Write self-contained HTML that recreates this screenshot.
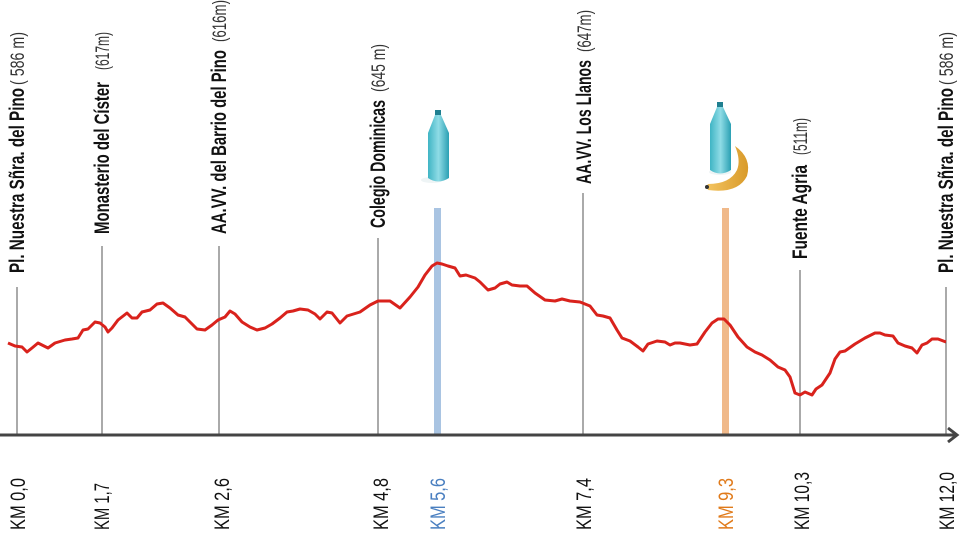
<!DOCTYPE html>
<html><head><meta charset="utf-8"><style>
html,body{margin:0;padding:0;background:#fff;}
svg{display:block;font-family:"Liberation Sans Narrow","Liberation Sans",sans-serif;}
.b{font-weight:bold;font-size:21px;fill:#111;}
.l{font-size:19px;fill:#333;}
.k{font-size:21px;fill:#111;}
</style></head><body>
<svg width="960" height="534" viewBox="0 0 960 534" xmlns="http://www.w3.org/2000/svg">
<defs>
<linearGradient id="bt" x1="0" x2="1"><stop offset="0" stop-color="#3fb4c4"/><stop offset="0.5" stop-color="#8fdce6"/><stop offset="1" stop-color="#2aa0b3"/></linearGradient>
<linearGradient id="bn" x1="0" x2="1"><stop offset="0" stop-color="#f3c460"/><stop offset="1" stop-color="#d99a2a"/></linearGradient>
</defs>
<g stroke="#555" stroke-width="1">
<line x1="17" y1="287" x2="17" y2="435"/>
<line x1="102" y1="246" x2="102" y2="435"/>
<line x1="219" y1="246" x2="219" y2="435"/>
<line x1="378" y1="238" x2="378" y2="435"/>
<line x1="583" y1="193" x2="583" y2="435"/>
<line x1="800" y1="270" x2="800" y2="435"/>
<line x1="946" y1="287" x2="946" y2="435"/>
</g>
<rect x="434" y="208" width="7" height="227" fill="#a9c4e2"/>
<rect x="722" y="208" width="7" height="227" fill="#f0b98a"/>
<polyline fill="none" stroke="#d9221c" stroke-width="3" stroke-linejoin="round" points="8,343 15,346 22,347 27,352 32,348 38,343 44,346 48,348 55,343 65,340 72,339 78,338 83,330 88,329 95,322 100,323 105,327 108,332 112,328 118,320 127,313 132,318 137,318 142,312 150,310 157,304 163,303 170,308 178,315 185,317 192,324 197,329 205,330 212,325 218,320 225,317 230,311 235,314 242,322 250,327 257,330 265,328 272,324 280,318 287,312 293,311 300,309 308,310 315,314 320,319 327,312 332,313 340,323 347,316 360,312 370,305 378,301 390,301 400,308 410,297 418,287 425,275 432,266 437,263 442,264 448,266 455,268 460,276 466,275 475,278 480,282 488,290 495,288 500,284 507,282 512,285 520,286 527,286 535,293 545,300 555,301 562,299 570,301 580,302 585,304 590,306 597,315 603,316 610,318 617,330 622,338 630,341 638,347 643,351 648,344 657,341 665,342 670,345 675,343 680,343 690,345 697,344 705,332 712,323 718,319 724,319 730,325 738,337 747,347 755,352 762,355 770,360 778,367 785,370 790,377 795,393 800,395 805,392 812,395 816,389 822,385 830,373 835,359 840,352 845,351 855,344 865,338 875,333 880,333 885,335 893,336 898,343 905,346 912,348 917,353 922,345 927,343 932,339 938,339 946,342"/>
<line x1="0" y1="435" x2="956" y2="435" stroke="#444" stroke-width="3"/>
<polyline points="948,428 957,435 948,442" fill="none" stroke="#444" stroke-width="3"/>
<g transform="translate(24,273) rotate(-90)"><text class="b" x="0" y="0" textLength="185" lengthAdjust="spacingAndGlyphs">Pl. Nuestra Sñra. del Pino</text><text class="l" x="188" y="0" textLength="53" lengthAdjust="spacingAndGlyphs">( 586 m)</text></g>
<g transform="translate(109,234) rotate(-90)"><text class="b" x="0" y="0" textLength="152" lengthAdjust="spacingAndGlyphs">Monasterio del Císter</text><text class="l" x="164" y="0" textLength="38" lengthAdjust="spacingAndGlyphs">(617m)</text></g>
<g transform="translate(226,234) rotate(-90)"><text class="b" x="0" y="0" textLength="184" lengthAdjust="spacingAndGlyphs">AA.VV. del Barrio del Pino</text><text class="l" x="192" y="0" textLength="42" lengthAdjust="spacingAndGlyphs">(616m)</text></g>
<g transform="translate(385,228) rotate(-90)"><text class="b" x="0" y="0" textLength="128" lengthAdjust="spacingAndGlyphs">Colegio Dominicas</text><text class="l" x="136" y="0" textLength="48" lengthAdjust="spacingAndGlyphs">(645 m)</text></g>
<g transform="translate(591,184) rotate(-90)"><text class="b" x="0" y="0" textLength="124" lengthAdjust="spacingAndGlyphs">AA.VV. Los Llanos</text><text class="l" x="132" y="0" textLength="42" lengthAdjust="spacingAndGlyphs">(647m)</text></g>
<g transform="translate(807,259) rotate(-90)"><text class="b" x="0" y="0" textLength="94" lengthAdjust="spacingAndGlyphs">Fuente Agria</text><text class="l" x="104" y="0" textLength="37" lengthAdjust="spacingAndGlyphs">(511m)</text></g>
<g transform="translate(953,273) rotate(-90)"><text class="b" x="0" y="0" textLength="185" lengthAdjust="spacingAndGlyphs">Pl. Nuestra Sñra. del Pino</text><text class="l" x="188" y="0" textLength="53" lengthAdjust="spacingAndGlyphs">( 586 m)</text></g>
<g class="k">
<text transform="translate(25,530) rotate(-90)" textLength="52" lengthAdjust="spacingAndGlyphs">KM 0,0</text>
<text transform="translate(109,530) rotate(-90)" textLength="47" lengthAdjust="spacingAndGlyphs">KM 1,7</text>
<text transform="translate(229,530) rotate(-90)" textLength="52" lengthAdjust="spacingAndGlyphs">KM 2,6</text>
<text transform="translate(388,530) rotate(-90)" textLength="52" lengthAdjust="spacingAndGlyphs">KM 4,8</text>
<text transform="translate(445,530) rotate(-90)" textLength="52" lengthAdjust="spacingAndGlyphs" fill="#4a7fc0">KM 5,6</text>
<text transform="translate(591,530) rotate(-90)" textLength="52" lengthAdjust="spacingAndGlyphs">KM 7,4</text>
<text transform="translate(733,530) rotate(-90)" textLength="52" lengthAdjust="spacingAndGlyphs" fill="#e07a1a">KM 9,3</text>
<text transform="translate(809,530) rotate(-90)" textLength="58" lengthAdjust="spacingAndGlyphs">KM 10,3</text>
<text transform="translate(954,530) rotate(-90)" textLength="58" lengthAdjust="spacingAndGlyphs">KM 12,0</text>
</g>
<ellipse cx="432" cy="180" rx="11" ry="3" fill="#eef4f5"/>
<rect x="435" y="110" width="6" height="5" fill="#1f7f90"/>
<path d="M435,115 L441,115 L449,133 L449,178 Q438,185 428,178 L428,133 Z" fill="url(#bt)"/>
<ellipse cx="720" cy="172" rx="11" ry="3" fill="#eef4f5"/>
<rect x="717" y="102" width="6" height="5" fill="#1f7f90"/>
<path d="M717,107 L723,107 L731,124 L731,170 Q720,177 710,170 L710,124 Z" fill="url(#bt)"/>
<path d="M735,146 Q752,158 747,176 Q738,194 708,190 Q706,186 708,184 Q730,184 737,170 Q741,160 735,146 Z" fill="url(#bn)"/>
<circle cx="707" cy="187" r="2" fill="#333"/>
</svg>
</body></html>
